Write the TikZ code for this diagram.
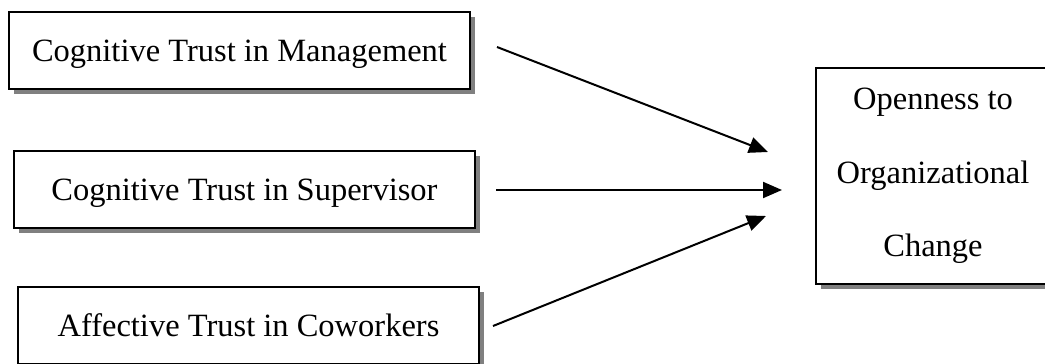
\documentclass[tikz,border=0pt]{standalone}
\usepackage{fontspec}
\setmainfont{Liberation Serif}
\usetikzlibrary{arrows.meta,shadows}
\begin{document}
\begin{tikzpicture}[x=1pt,y=-1pt,
  box/.style={draw=black, line width=1.8pt, fill=white, rectangle, inner sep=0pt,
    font=\fontsize{32.5}{36}\selectfont,
    drop shadow={shadow xshift=5pt, shadow yshift=-5pt, fill=black!50, opacity=1}},
  srcbox/.style={box, minimum width=461pt, minimum height=77pt, text depth=0pt},
  conn/.style={line width=2pt, -{Triangle[length=19pt,width=16pt]}}]
\useasboundingbox (0,0) rectangle (1045,364);
\node[srcbox] (m) at (239.5,50.5) {Cognitive Trust in Management};
\node[srcbox] (s) at (244.5,189.5) {Cognitive Trust in Supervisor};
\node[srcbox] (c) at (248.5,325.5) {Affective Trust in Coworkers};
\node[box, minimum width=234pt, minimum height=216pt, align=center,
  font=\fontsize{32.5}{73.5}\selectfont] (o) at (933,176) {Openness to\\Organizational\\Change};
\coordinate (a1s) at (497,47);
\coordinate (a1e) at (768,152);
\coordinate (a2s) at (496,190);
\coordinate (a2e) at (782,190);
\coordinate (a3s) at (493,326);
\coordinate (a3e) at (766,216);
\draw[conn] (a1s) -- (a1e);
\draw[conn] (a2s) -- (a2e);
\draw[conn] (a3s) -- (a3e);
\end{tikzpicture}
\end{document}
